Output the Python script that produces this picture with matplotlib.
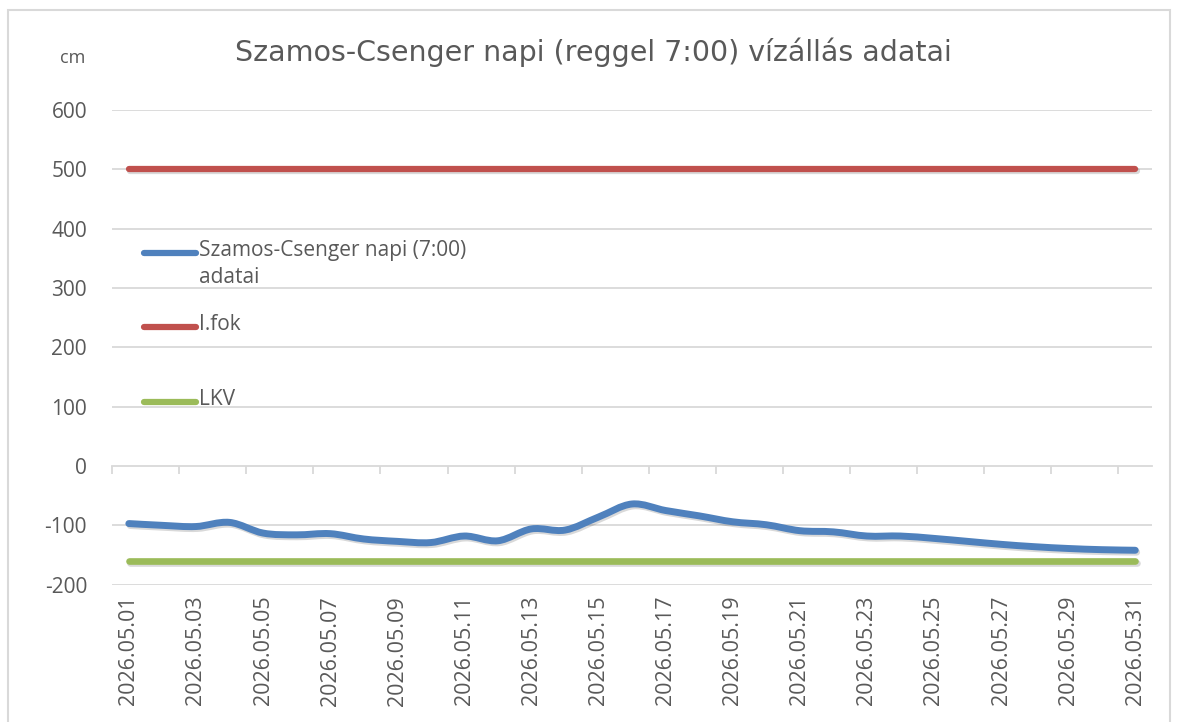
import numpy as np
import matplotlib.pyplot as plt
import matplotlib.patheffects as pe
from matplotlib.path import Path
from matplotlib.patches import PathPatch, Rectangle

# napi vízállás (cm), 2026.05.01 - 2026.05.31
days = list(range(1, 32))
dates = ["2026.05.%02d" % d for d in days]
vizallas = [-97, -100, -102, -95, -113, -116, -114, -123, -127, -129,
            -118, -126, -106, -108, -86, -64, -75, -84, -94, -99,
            -109, -111, -118, -118, -122, -127, -132, -136, -139, -141, -142]
ifok = [500] * 31
lkv = [-160] * 31

names = ["Szamos-Csenger napi (7:00)\nadatai", "I.fok", "LKV"]
colors = ["#4F81BD", "#C0504D", "#9BBB59"]
yticks = [-200, -100, 0, 100, 200, 300, 400, 500, 600]

GRAY = "#595959"
GRID = "#d9d9d9"
TICKFONT = "Open Sans"

shadow = [pe.SimpleLineShadow(offset=(1.0, -1.4), alpha=0.15, shadow_color="k"),
          pe.Normal()]


def smooth_path(x, y):
    # Catmull-Rom pontok -> köbös Bezier szakaszok (Excel-féle simított vonal)
    x = np.asarray(x, float)
    y = np.asarray(y, float)
    verts = [(x[0], y[0])]
    codes = [Path.MOVETO]
    n = len(x)
    t = 1.0 / 6.0
    for i in range(n - 1):
        p0 = i - 1 if i > 0 else i
        p3 = i + 2 if i + 2 < n else i + 1
        c1 = (x[i] + (x[i + 1] - x[p0]) * t, y[i] + (y[i + 1] - y[p0]) * t)
        c2 = (x[i + 1] - (x[p3] - x[i]) * t, y[i + 1] - (y[p3] - y[i]) * t)
        verts += [c1, c2, (x[i + 1], y[i + 1])]
        codes += [Path.CURVE4] * 3
    return Path(verts, codes)


fig = plt.figure(figsize=(11.77, 7.22), dpi=100)
fig.patches.append(Rectangle((0.007, -0.05), 0.987, 1.036, transform=fig.transFigure,
                             fill=False, edgecolor=GRID, lw=1.5))
ax = fig.add_axes([0.0952, 0.1902, 0.8836, 0.6574])

ax.set_xlim(0.5, 31.5)
ax.set_ylim(-200, 600)
ax.set_yticks(yticks)
ax.set_yticklabels([str(v) for v in yticks], fontfamily=TICKFONT, fontsize=15, color=GRAY)
ax.tick_params(axis="y", length=0, pad=18)
for v in yticks:
    if v != 0:
        ax.axhline(v, color=GRID, lw=1.3, zorder=0)

for s in ["top", "right", "left"]:
    ax.spines[s].set_visible(False)
ax.spines["bottom"].set_position(("data", 0))
ax.spines["bottom"].set_color(GRID)
ax.spines["bottom"].set_linewidth(1.3)
ax.set_xticks(np.arange(0.5, 32, 2))
ax.tick_params(axis="x", length=6, width=1.3, color=GRID, labelbottom=False)

# dátum feliratok a diagram alján
sec = ax.secondary_xaxis(0.0)
sec.set_xticks(days[::2])
sec.set_xticklabels(dates[::2], rotation=90, fontfamily=TICKFONT, fontsize=15.5, color=GRAY)
sec.tick_params(length=0, pad=8)
sec.spines["bottom"].set_visible(False)

# vízszintes szintek
ax.plot(days, ifok, color=colors[1], lw=4.5, solid_capstyle="round", path_effects=shadow, zorder=3)
ax.plot(days, lkv, color=colors[2], lw=4.8, solid_capstyle="round", path_effects=shadow, zorder=3)
ax.add_patch(PathPatch(smooth_path(days, vizallas), fill=False, edgecolor=colors[0], lw=5,
                       capstyle="round", joinstyle="round", path_effects=shadow, zorder=4))

# jelmagyarázat
for yy, name, c in zip([0.699, 0.543, 0.385], names, colors):
    ax.plot([0.031, 0.081], [yy, yy], transform=ax.transAxes, color=c, lw=4.5,
            solid_capstyle="round", zorder=5)
    ax.text(0.084, yy + 0.028, name, transform=ax.transAxes, ha="left", va="top",
            fontfamily=TICKFONT, fontsize=15, color=GRAY, linespacing=1.4, zorder=5)

fig.text(0.504, 0.928, "Szamos-Csenger napi (reggel 7:00) vízállás adatai", ha="center",
         va="center", fontsize=20.5, color=GRAY, fontfamily="DejaVu Sans")
fig.text(0.062, 0.92, "cm", ha="center", va="center", fontsize=13, color=GRAY,
         fontfamily=TICKFONT)

fig.savefig("out.png", dpi=100)
